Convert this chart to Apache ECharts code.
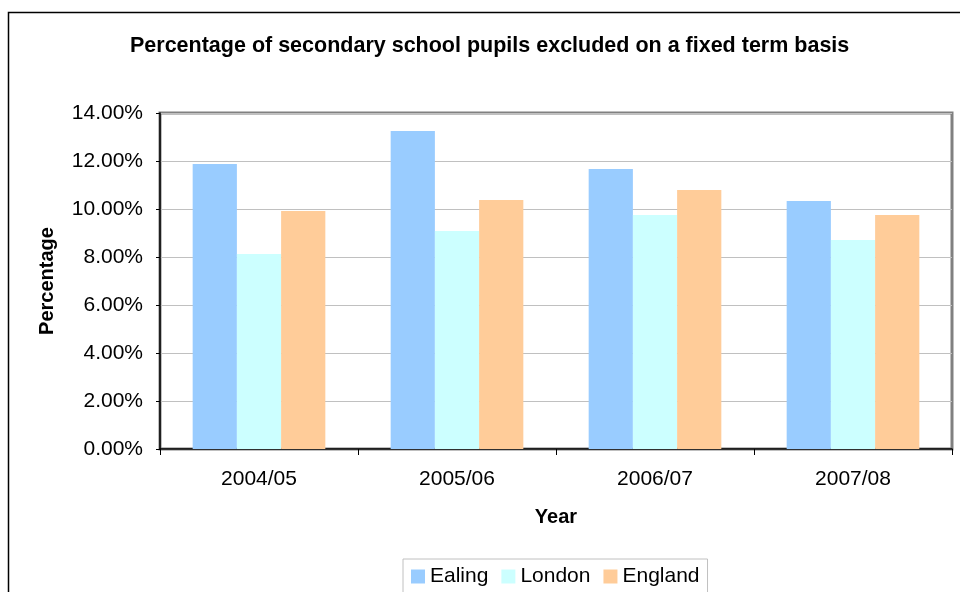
<!DOCTYPE html>
<html>
<head>
<meta charset="utf-8">
<style>
  html, body { margin: 0; padding: 0; background: #fff; }
  #chart { width: 960px; height: 592px; }
</style>
<script src="https://cdn.jsdelivr.net/npm/echarts@6/dist/echarts.min.js"></script>
</head>
<body>
<div id="chart"></div>
<script>
// Fixed-term exclusions, secondary pupils (%)
const years = ['2004/05', '2005/06', '2006/07', '2007/08'];
const ealing = [11.88, 13.25, 11.67, 10.33];
const london = [8.13, 9.08, 9.75, 8.71];
const england = [9.92, 10.38, 10.79, 9.75];

const FONT = '"Liberation Sans", Arial, sans-serif';
const chart = echarts.init(document.getElementById('chart'));

function barSeries(name, data, color) {
  return {
    name: name,
    type: 'bar',
    data: data,
    barGap: '0%',
    barCategoryGap: '33%',
    itemStyle: { color: color },
    emphasis: { disabled: true }
  };
}

chart.setOption({
  animation: false,
  textStyle: { fontFamily: FONT },
  title: {
    text: 'Percentage of secondary school pupils excluded on a fixed term basis',
    left: 125,
    top: 30,
    textStyle: { fontFamily: FONT, fontSize: 21.5, fontWeight: 'bold', color: '#000' }
  },
  graphic: [{
    type: 'rect',
    shape: { x: 8.5, y: 12.5, width: 1000, height: 700 },
    style: { fill: 'none', stroke: '#000', lineWidth: 1.5 },
    silent: true,
    z: -1
  }],
  legend: {
    data: ['Ealing', 'London', 'England'],
    left: 403,
    top: 559,
    padding: [7, 8, 7, 8],
    itemWidth: 14,
    itemHeight: 14,
    itemGap: 13,
    icon: 'rect',
    borderColor: '#c0c0c0',
    borderWidth: 1,
    textStyle: { fontFamily: FONT, fontSize: 21, color: '#000' }
  },
  grid: {
    left: 160,
    right: 8,
    top: 113,
    bottom: 143,
    show: true,
    borderColor: '#808080',
    borderWidth: 3,
    backgroundColor: '#fff'
  },
  xAxis: {
    type: 'category',
    data: years,
    name: 'Year',
    nameLocation: 'middle',
    nameGap: 58,
    nameTextStyle: { fontFamily: FONT, fontSize: 20, fontWeight: 'bold', color: '#000' },
    axisLine: { lineStyle: { color: '#000', width: 1.5 } },
    axisTick: { show: true, length: 6, lineStyle: { color: '#000' } },
    axisLabel: { fontFamily: FONT, fontSize: 21, color: '#000', margin: 20 },
    splitLine: { show: false }
  },
  yAxis: {
    type: 'value',
    min: 0,
    max: 14,
    interval: 2,
    name: 'Percentage',
    nameLocation: 'middle',
    nameGap: 103,
    nameRotate: 90,
    nameTextStyle: { fontFamily: FONT, fontSize: 20, fontWeight: 'bold', color: '#000' },
    axisLine: { show: true, lineStyle: { color: '#000', width: 1.5 } },
    axisTick: { show: true, inside: false, length: 4, lineStyle: { color: '#000' } },
    axisLabel: {
      fontFamily: FONT, fontSize: 21, color: '#000', margin: 17,
      formatter: function (v) { return v.toFixed(2) + '%'; }
    },
    splitLine: { show: true, lineStyle: { color: '#c0c0c0', width: 1 } }
  },
  series: [
    barSeries('Ealing', ealing, '#99ccff'),
    barSeries('London', london, '#ccffff'),
    barSeries('England', england, '#ffcc99')
  ]
});
</script>
</body>
</html>
